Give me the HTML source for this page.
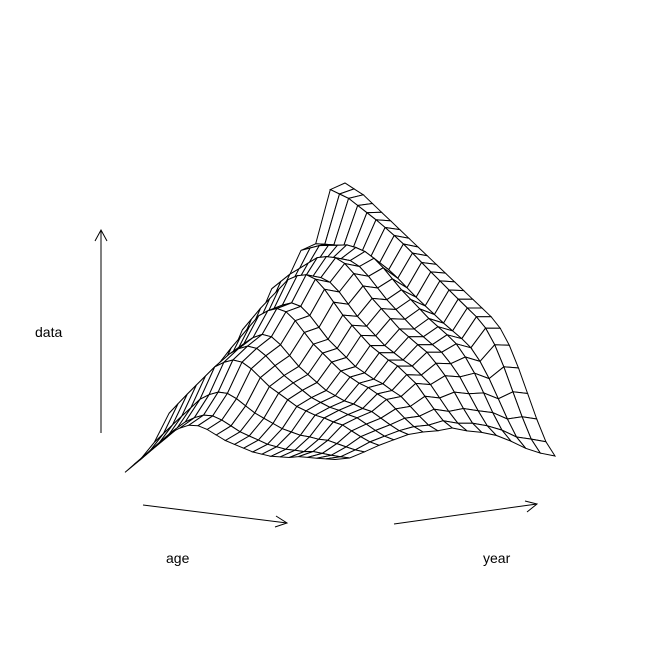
<!DOCTYPE html>
<html><head><meta charset="utf-8"><style>
html,body{margin:0;padding:0;background:#fff}
svg{display:block}
text{font-family:"Liberation Sans",sans-serif;font-size:14px}
</style></head><body>
<svg id="chart" width="672" height="672">
<g id="surface"></g>
<line x1="101" y1="433" x2="101" y2="230" stroke="#000"/>
<polyline points="95,241 101,230 107,241" fill="none" stroke="#000"/>
<text x="35" y="337">data</text>
<line x1="143" y1="505" x2="287" y2="523" stroke="#000"/>
<polyline points="276,516 287,523 275,527" fill="none" stroke="#000"/>
<text x="166" y="563">age</text>
<line x1="394" y1="524" x2="537" y2="504" stroke="#000"/>
<polyline points="525,501 537,504 527,512" fill="none" stroke="#000"/>
<text x="483" y="563">year</text>
</svg>
<script>
const yearLevel = [0.02,0.06,0.12,0.22,0.24,0.25,0.36,0.38,0.5,0.52,0.64,0.66,0.77,0.79,0.98,1.0];
const yearBump = [0.6,0.6,0.7,0.8,0.9,1.0,1.0,1.0,1.0,0.9,0.8,0.7,0.5,0.3,0.1,0.0];
const ageShape = [1.0,0.98,0.96,0.93,0.90,0.87,0.84,0.81,0.78,0.75,0.72,0.69,0.66,0.63,0.60,0.57,0.54,0.50,0.44,0.36,0.27,0.18,0.10,0.05];
const ageFloor = [0.0,0.05,0.10,0.15,0.20,0.25,0.28,0.30,0.30,0.28,0.25,0.22,0.20,0.18,0.16,0.15,0.14,0.14,0.14,0.15,0.15,0.15,0.15,0.15];
const NY=yearLevel.length, NA=ageShape.length;
function zval(i,j){ return yearLevel[j]*ageShape[i] + ageFloor[i]*yearBump[j]; }
const L=[125,478],F=[335,485],B=[345,463],H=280;
function proj(i,j){
  const a=i/(NA-1), y=j/(NY-1), z=zval(i,j);
  return [L[0]+a*(F[0]-L[0])+y*(B[0]-L[0]), L[1]+a*(F[1]-L[1])+y*(B[1]-L[1])-z*H];
}
const g=document.getElementById('surface');
const cells=[];
for(let j=0;j<NY-1;j++)for(let i=0;i<NA-1;i++){
  cells.push({i,j,d:(i/(NA-1))+(1-j/(NY-1))});
}
cells.sort((p,q)=>p.d-q.d);
cells.forEach(c=>{
  const {i,j}=c;
  const pts=[proj(i,j),proj(i+1,j),proj(i+1,j+1),proj(i,j+1)];
  const p=document.createElementNS('http://www.w3.org/2000/svg','polygon');
  p.setAttribute('points',pts.map(q=>q[0].toFixed(1)+','+q[1].toFixed(1)).join(' '));
  p.setAttribute('fill','#fff');p.setAttribute('stroke','#000');p.setAttribute('stroke-width','1');
  
  
  g.appendChild(p);
});
</script>
</body></html>
